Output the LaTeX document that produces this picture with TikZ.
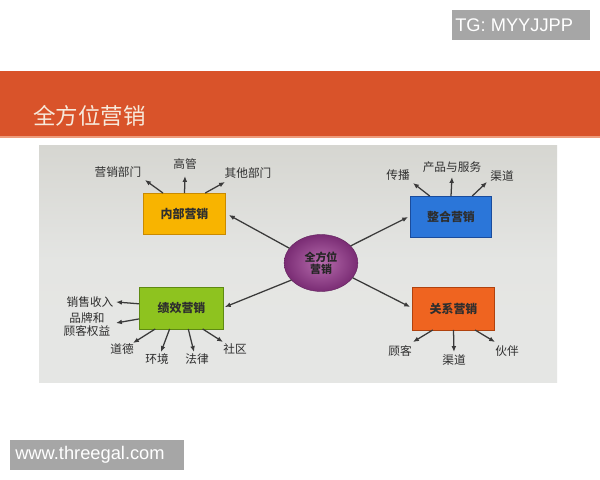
\documentclass[tikz,border=0pt]{standalone}
\usepackage{fontspec}
\setmainfont{Liberation Sans}
\newfontfamily\cjk{Noto Sans CJK SC}
\usetikzlibrary{arrows.meta,shapes.geometric,calc}
\definecolor{band}{HTML}{D9532A}
\definecolor{bandline}{HTML}{EE9C7C}
\definecolor{cream}{HTML}{F7EADC}
\definecolor{wmgray}{HTML}{A6A6A6}
\definecolor{phototop}{HTML}{D6D6D1}
\definecolor{photobot}{HTML}{E5E6E4}
\definecolor{linecol}{HTML}{3A3A3A}
\definecolor{labcol}{HTML}{2E2E2E}
\definecolor{yfill}{HTML}{F8B400}
\definecolor{ydraw}{HTML}{C98A00}
\definecolor{bfill}{HTML}{2B76D9}
\definecolor{bdraw}{HTML}{1A4C9C}
\definecolor{gfill}{HTML}{8EC31F}
\definecolor{gdraw}{HTML}{5E8A12}
\definecolor{ofill}{HTML}{EF6420}
\definecolor{odraw}{HTML}{B0420E}
\definecolor{pin}{HTML}{B66CAD}
\definecolor{pout}{HTML}{7A2C74}
\tikzset{
  mbox/.style={rectangle,inner sep=0pt,outer sep=0pt,line width=0.6pt,
    font=\fontsize{8.5}{10}\selectfont\cjk\bfseries,text=labcol},
  lab/.style={inner sep=0pt,font=\fontsize{8.3}{8.8}\selectfont\cjk,text=labcol,align=center},
  arr/.style={draw=linecol,line width=0.9pt,-{Latex[length=4.2pt,width=3.4pt]}},
  wm/.style={inner sep=0pt,font=\fontsize{13}{15}\selectfont,text=white,anchor=west}
}
\begin{document}
\begin{tikzpicture}[x=0.025cm,y=-0.025cm]
\useasboundingbox (0,0) rectangle (600,480);
\fill[white] (0,0) rectangle (600,480);
% watermark top
\fill[wmgray] (452,10) rectangle (590,40);
\node[wm] (tg) at (455,25.5) {TG: MYYJJPP};
% title band
\fill[band] (0,71) rectangle (600,136);
\fill[bandline] (0,136) rectangle (600,137.5);
\node[inner sep=0pt,anchor=west,text=cream,font=\fontsize{16}{18}\selectfont\cjk] (title) at (33,115.5) {全方位营销};
% photo background
\shade[top color=phototop,bottom color=photobot,middle color=photobot!96!phototop] (39,145) rectangle (557,382);
% central ellipse
\node[ellipse,inner sep=0pt,outer sep=0pt,minimum width=52.4pt,minimum height=40.5pt,
  inner color=pin,outer color=pout,draw=pout!80!black,line width=0.3pt,
  font=\fontsize{7.8}{8.2}\selectfont\cjk\bfseries,text=black!85,align=center] (el) at (321,263) {全方位\\营销};
% boxes
\node[mbox,fill=yfill,draw=ydraw,minimum width=58.8pt,minimum height=29.1pt] (nb) at (184.5,213.5) {内部营销};
\node[mbox,fill=bfill,draw=bdraw,minimum width=58.1pt,minimum height=29.1pt] (zh) at (451,216.5) {整合营销};
\node[mbox,fill=gfill,draw=gdraw,minimum width=60.2pt,minimum height=29.8pt] (jx) at (181.5,308) {绩效营销};
\node[mbox,fill=ofill,draw=odraw,minimum width=58.8pt,minimum height=30.5pt] (gx) at (453.5,308.5) {关系营销};
% ellipse to boxes
\draw[arr] (el.155) -- ($(nb.east)+(3,1.5)$);
\draw[arr] (el.30) -- ($(zh.west)+(-2,0.5)$);
\draw[arr] (el.210) -- ($(jx.east)+(1,-1)$);
\draw[arr] (el.335) -- ($(gx.west)+(-2,-1.5)$);
% labels: 内部营销
\node[lab] (n1) at (118,172) {营销部门};
\node[lab] (n2) at (185,164) {高管};
\node[lab] (n3) at (248,173) {其他部门};
\coordinate (n1e) at (145,180);
\coordinate (n2e) at (185,176);
\coordinate (n3e) at (225,182);
\draw[arr] ($(nb.north west)!0.24!(nb.north east)$) -- (n1e);
\draw[arr] ($(nb.north west)!0.5!(nb.north east)$) -- (n2e);
\draw[arr] ($(nb.north west)!0.75!(nb.north east)$) -- (n3e);
% labels: 整合营销
\node[lab] (z1) at (398,175) {传播};
\node[lab] (z2) at (452,167) {产品与服务};
\node[lab] (z3) at (502,176) {渠道};
\coordinate (z1e) at (413,183);
\coordinate (z2e) at (452,177);
\coordinate (z3e) at (487,182);
\draw[arr] ($(zh.north west)!0.24!(zh.north east)$) -- (z1e);
\draw[arr] ($(zh.north west)!0.5!(zh.north east)$) -- (z2e);
\draw[arr] ($(zh.north west)!0.76!(zh.north east)$) -- (z3e);
% labels: 绩效营销
\node[lab] (j1) at (90,302) {销售收入};
\node[lab] (j2) at (87,324.5) {品牌和\\顾客权益};
\node[lab] (j3) at (122,349) {道德};
\node[lab] (j4) at (157,359) {环境};
\node[lab] (j5) at (197,359) {法律};
\node[lab] (j6) at (235,349) {社区};
\coordinate (j1e) at (116,302);
\coordinate (j2e) at (116,323);
\coordinate (j3e) at (133,343);
\coordinate (j4e) at (161,352);
\coordinate (j5e) at (194,352);
\coordinate (j6e) at (223,342);
\draw[arr] ($(jx.north west)!0.4!(jx.south west)$) -- (j1e);
\draw[arr] ($(jx.north west)!0.76!(jx.south west)$) -- (j2e);
\draw[arr] ($(jx.south west)!0.19!(jx.south east)$) -- (j3e);
\draw[arr] ($(jx.south west)!0.36!(jx.south east)$) -- (j4e);
\draw[arr] ($(jx.south west)!0.58!(jx.south east)$) -- (j5e);
\draw[arr] ($(jx.south west)!0.75!(jx.south east)$) -- (j6e);
% labels: 关系营销
\node[lab] (g1) at (400,351) {顾客};
\node[lab] (g2) at (454,360) {渠道};
\node[lab] (g3) at (507,351) {伙伴};
\coordinate (g1e) at (413,342);
\coordinate (g2e) at (454,352);
\coordinate (g3e) at (495,342);
\draw[arr] ($(gx.south west)!0.25!(gx.south east)$) -- (g1e);
\draw[arr] ($(gx.south west)!0.5!(gx.south east)$) -- (g2e);
\draw[arr] ($(gx.south west)!0.76!(gx.south east)$) -- (g3e);
% watermark bottom
\fill[wmgray] (10,440) rectangle (184,470);
\node[wm] (www) at (15,455) {www.threegal.com};
\end{tikzpicture}
\end{document}
